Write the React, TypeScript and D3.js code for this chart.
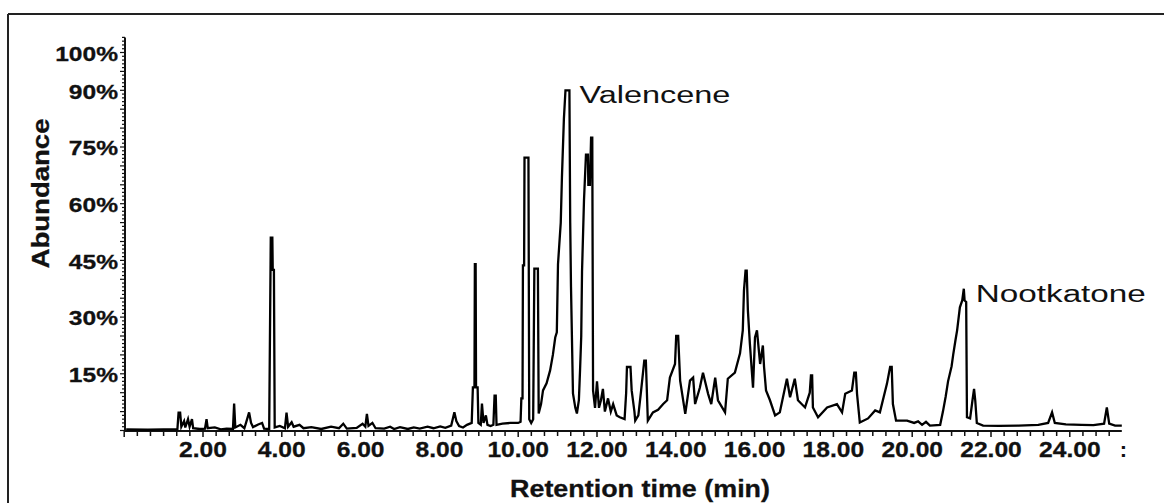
import React from "react";
import * as d3 from "d3";

// Retention time (min) and relative abundance (%)
const retentionTime = [
  0.05, 0.6, 1.0, 1.35, 1.38, 1.42, 1.45, 1.52, 1.55, 1.62, 1.66, 1.72, 1.75, 1.92, 2.05, 2.09, 2.12, 2.3, 2.45, 2.6,
  2.76, 2.79, 2.82, 2.95, 3.05, 3.12, 3.17, 3.22, 3.27, 3.4, 3.5, 3.55, 3.68, 3.72, 3.76, 3.77, 3.8, 3.82, 3.95, 4.08,
  4.12, 4.16, 4.25, 4.3, 4.45, 4.55, 4.75, 5.0, 5.25, 5.45, 5.56, 5.65, 5.9, 6.05, 6.12, 6.16, 6.2, 6.3, 6.38, 6.6,
  6.75, 6.85, 7.0, 7.2, 7.35, 7.5, 7.7, 7.85, 8.02, 8.15, 8.3, 8.38, 8.43, 8.5, 8.6, 8.7, 8.82, 8.85, 8.89, 8.9,
  8.92, 8.93, 8.97, 8.99, 9.05, 9.08, 9.12, 9.18, 9.22, 9.3, 9.37, 9.4, 9.43, 9.45, 9.6, 9.8, 10.0, 10.06, 10.08, 10.11,
  10.12, 10.15, 10.16, 10.26, 10.28, 10.33, 10.38, 10.41, 10.5, 10.52, 10.58, 10.63, 10.72, 10.81, 10.88, 10.94, 10.98, 11.01, 11.08, 11.11,
  11.16, 11.2, 11.3, 11.32, 11.34, 11.39, 11.45, 11.49, 11.54, 11.57, 11.6, 11.62, 11.67, 11.72, 11.77, 11.78, 11.82, 11.85, 11.88, 11.9,
  11.95, 12.0, 12.05, 12.1, 12.15, 12.2, 12.28, 12.35, 12.41, 12.5, 12.58, 12.7, 12.74, 12.76, 12.85, 12.88, 12.95, 12.97, 13.05, 13.12,
  13.2, 13.24, 13.29, 13.42, 13.55, 13.68, 13.78, 13.85, 13.98, 14.01, 14.06, 14.11, 14.24, 14.36, 14.44, 14.49, 14.61, 14.69, 14.82, 14.9,
  15.0, 15.07, 15.25, 15.32, 15.5, 15.63, 15.7, 15.73, 15.77, 15.8, 15.83, 15.88, 15.96, 16.01, 16.06, 16.14, 16.21, 16.24, 16.29, 16.39,
  16.52, 16.64, 16.82, 16.9, 17.02, 17.1, 17.28, 17.4, 17.43, 17.46, 17.48, 17.61, 17.84, 18.09, 18.22, 18.3, 18.47, 18.53, 18.57, 18.6,
  18.67, 18.88, 19.06, 19.18, 19.36, 19.44, 19.48, 19.51, 19.59, 19.87, 20.05, 20.15, 20.25, 20.35, 20.45, 20.71, 20.78, 20.85, 20.91, 21.0,
  21.04, 21.1, 21.14, 21.21, 21.27, 21.31, 21.33, 21.37, 21.39, 21.47, 21.53, 21.57, 21.6, 21.64, 21.8, 22.2, 22.7, 23.2, 23.45, 23.55,
  23.62, 23.9, 24.3, 24.6, 24.87, 24.94, 25.0, 25.15, 25.32,
];
const abundance = [
  0.3, 0.2, 0.3, 0.3, 4.7, 4.7, 1.0, 2.5, 0.8, 3.0, 1.0, 3.0, 0.6, 0.4, 0.5, 3.0, 0.6, 0.8, 0.3, 0.5,
  0.4, 7.1, 0.8, 1.5, 0.6, 3.0, 4.8, 2.0, 0.9, 1.6, 2.0, 0.5, 0.4, 51, 51, 42.5, 42.5, 0.8, 1.2, 0.6,
  4.7, 1.0, 2.2, 1.0, 1.5, 0.6, 0.9, 0.4, 1.0, 0.6, 1.8, 0.5, 0.7, 1.8, 1.0, 4.4, 1.2, 2.0, 0.6, 0.5,
  1.0, 0.4, 0.9, 0.4, 0.8, 0.5, 1.0, 0.6, 1.1, 0.7, 1.3, 4.8, 2.5, 1.2, 0.8, 1.5, 2.0, 11.4, 11.4, 44,
  44, 11.4, 11.4, 2.0, 1.5, 7.1, 2.0, 4.0, 1.5, 1.2, 1.5, 9.2, 9.2, 1.5, 1.8, 2.0, 2.0, 2.3, 8.5, 8.5,
  43.7, 43.7, 72.2, 72.2, 3, 2.0, 3.0, 42.8, 42.8, 4.5, 7, 10.6, 12.5, 15.9, 20, 24.6, 26, 44, 55, 67,
  82.5, 90, 90, 55, 38, 9.8, 6, 4.5, 8, 16, 25, 42, 61, 73, 73, 65, 65, 77.5, 77.5, 10.6,
  6, 13, 6, 8, 11, 5, 8.5, 5, 7, 4, 3.5, 3, 10, 16.8, 16.8, 10.6, 5, 2.6, 4, 10.6,
  18.5, 18.5, 2.6, 4.8, 5.5, 7, 8, 14, 17.6, 25, 25, 13.2, 4.4, 13.2, 14, 7, 11.3, 15.3, 9.7, 7,
  14, 8, 4.8, 13.7, 15.3, 20.4, 26.5, 37, 42.3, 42.3, 31.7, 23, 11.3, 24.6, 26.5, 17.6, 22.5, 16.8, 10.6, 8,
  4, 4.8, 13.7, 8.8, 13.7, 8, 6.1, 10, 14.6, 14.6, 6.1, 3.5, 6.1, 7, 4.8, 9.7, 10.6, 15.3, 15.3, 9.7,
  2.1, 3.2, 5.3, 4.8, 12.4, 16.8, 16.8, 7, 2.6, 2.6, 2.0, 2.4, 1.5, 2.3, 1.3, 1.5, 5, 9, 13, 17,
  20, 24, 26.5, 32.6, 34.4, 37.5, 34.4, 34, 3.5, 3.2, 8, 11, 8, 2, 1.3, 1.2, 1.3, 1.5, 2.0, 4.8,
  2.0, 1.6, 1.5, 1.4, 1.8, 6.1, 1.8, 1.3, 1.3,
];

const xTickValues = [2, 4, 6, 8, 10, 12, 14, 16, 18, 20, 22, 24];
const xTickLabels = ["2.00", "4.00", "6.00", "8.00", "10.00", "12.00", "14.00", "16.00", "18.00", "20.00", "22.00", "24.00"];
const xEndMarker = ":";
const yTickValues = [15, 30, 45, 60, 75, 90, 100];
const yTickLabels = ["15%", "30%", "45%", "60%", "75%", "90%", "100%"];
const peakNames = ["Valencene", "Nootkatone"];
const peakTimes = [11.25, 21.31];
const peakAbundance = [90, 37.5];
const peakLabelWidths = [151, 170];

const FONT = "'Liberation Sans', Arial, Helvetica, sans-serif";
const INK = "#111";

export default function App() {
  const W = 1164;
  const H = 503;
  const x = d3.scaleLinear().domain([0, 25]).range([124.2, 124.2 + 25 * 39.4]);
  const y = d3.scaleLinear().domain([0, 100]).range([430.5, 52.5]);

  const points: [number, number][] = retentionTime.map((t, i) => [t, abundance[i]]);
  const line = d3
    .line<[number, number]>()
    .x((d) => x(d[0]))
    .y((d) => y(d[1]))
    .curve(d3.curveLinear);

  const tEnd = retentionTime[retentionTime.length - 1];
  const axisY = 431;
  const axisX = 125;
  const minorX = d3.range(0, tEnd + 0.01, 1 / 3);
  const minorY = d3.range(0, 104.5, 1);

  return (
    <svg
      width={W}
      height={H}
      style={{ position: "absolute", left: 0, top: 0, background: "#fff" }}
      fontFamily={FONT}
    >
      <rect x={0} y={0} width={W} height={H} fill="#fff" />
      {/* frame */}
      <line x1={8} y1={14} x2={W} y2={14} stroke="#222" strokeWidth={2} />
      <line x1={8} y1={14} x2={8} y2={H} stroke="#222" strokeWidth={2} />

      {/* y axis */}
      <line x1={axisX} y1={axisY} x2={axisX} y2={y(104)} stroke={INK} strokeWidth={2} />
      {minorY.map((v) => (
        <line
          key={"yt" + v}
          x1={axisX}
          x2={axisX - (v % 5 === 0 ? 5 : 3)}
          y1={y(v)}
          y2={y(v)}
          stroke={INK}
          strokeWidth={1.2}
        />
      ))}
      {yTickValues.map((v, i) => (
        <text
          key={"yl" + v}
          transform={`translate(118,${y(v) + 1}) scale(1.17,1)`}
          textAnchor="end"
          dominantBaseline="central"
          fontWeight="bold"
          fontSize={21}
          fill={INK}
          stroke={INK}
          strokeWidth={0.3}
        >
          {yTickLabels[i]}
        </text>
      ))}
      <text
        transform="translate(49,193.5) rotate(-90)"
        textAnchor="middle"
        fontWeight="bold"
        fontSize={23}
        textLength={150}
        lengthAdjust="spacingAndGlyphs"
        fill={INK}
        stroke={INK}
        strokeWidth={0.3}
      >
        Abundance
      </text>

      {/* x axis */}
      <line x1={x(0)} y1={axisY} x2={x(tEnd)} y2={axisY} stroke={INK} strokeWidth={2} />
      {minorX.map((t, i) => (
        <line
          key={"xt" + i}
          x1={x(t)}
          x2={x(t)}
          y1={axisY}
          y2={axisY + (i % 6 === 0 ? 6 : 5)}
          stroke={INK}
          strokeWidth={1.5}
        />
      ))}
      {xTickValues.map((v, i) => (
        <text
          key={"xl" + v}
          transform={`translate(${x(v)},457) scale(1.12,1)`}
          textAnchor="middle"
          fontWeight="bold"
          fontSize={22}
          fill={INK}
          stroke={INK}
          strokeWidth={0.3}
        >
          {xTickLabels[i]}
        </text>
      ))}
      <text
        x={x(tEnd) - 2}
        y={457}
        fontWeight="bold"
        fontSize={22}
        fill={INK}
      >
        {xEndMarker}
      </text>
      <text
        x={510}
        y={497}
        fontWeight="bold"
        fontSize={23}
        textLength={260}
        lengthAdjust="spacingAndGlyphs"
        fill={INK}
        stroke={INK}
        strokeWidth={0.3}
      >
        Retention time (min)
      </text>

      {/* chromatogram trace */}
      <path d={line(points) || ""} fill="none" stroke="#000" strokeWidth={2.3} strokeLinejoin="miter" />

      {/* peak annotations */}
      {peakNames.map((name, i) => (
        <text
          key={name}
          x={x(peakTimes[i]) + 12}
          y={y(peakAbundance[i]) + 13}
          fontSize={23}
          textLength={peakLabelWidths[i]}
          lengthAdjust="spacingAndGlyphs"
          fill={INK}
        >
          {name}
        </text>
      ))}
    </svg>
  );
}
